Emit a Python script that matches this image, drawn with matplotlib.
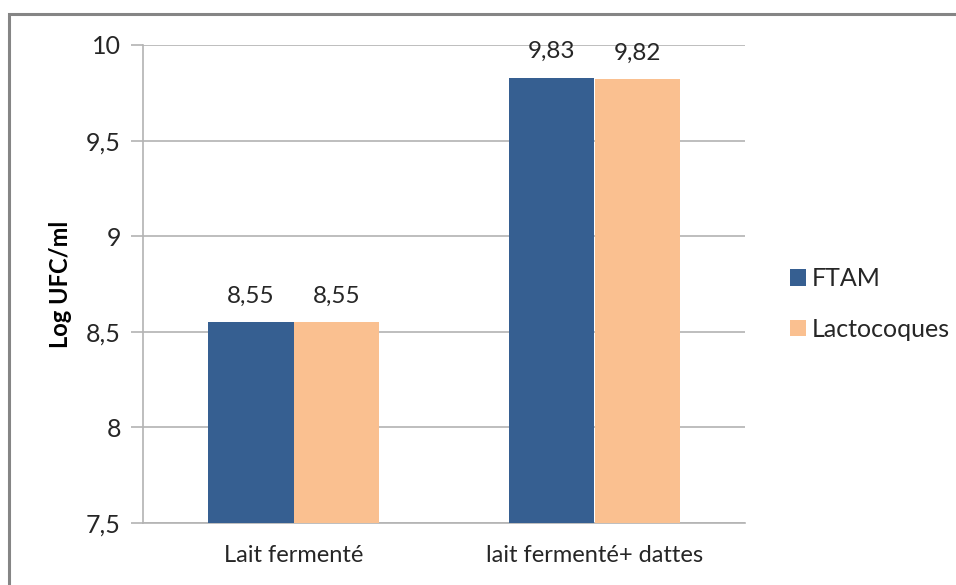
import numpy as np
import matplotlib.pyplot as plt
from matplotlib.patches import Rectangle
from matplotlib.ticker import FuncFormatter

categories = ['Lait fermenté', 'lait fermenté+ dattes']
ftam = [8.55, 9.83]
lacto = [8.55, 9.82]
series_names = ['FTAM', 'Lactocoques']
yticks = [7.5, 8, 8.5, 9, 9.5, 10]

col_ftam = '#365F91'
col_lacto = '#FAC090'
grid_col = '#B3B3B3'
txt_col = '#262626'

plt.rcParams['font.family'] = ['Lato', 'DejaVu Sans']

def virgule(v, pos=None):
    s = ('%g' % v)
    return s.replace('.', ',')

fig = plt.figure(figsize=(9.56, 5.85), dpi=100)
# cadre gris autour du graphique (seulement haut et gauche visibles)
fig.patches.append(Rectangle((9/956, -0.1), 1.2, 1 - 14/585 + 0.1, transform=fig.transFigure,
                             fill=False, edgecolor='#858585', linewidth=2.2))

ax = fig.add_axes([143/956, 1 - 523/585, 602/956, 478/585])
x = np.arange(len(categories))
w = 0.285
b1 = ax.bar(x - w/2, ftam, w, color=col_ftam, label=series_names[0], zorder=3, linewidth=0)
b2 = ax.bar(x + w/2, lacto, w, color=col_lacto, label=series_names[1], zorder=3, linewidth=0)

for bars, vals in ((b1, ftam), (b2, lacto)):
    for r, v in zip(bars, vals):
        ax.annotate(virgule(v), (r.get_x() + r.get_width()/2, v), xytext=(0, 11),
                    textcoords='offset points', ha='center', va='bottom',
                    fontsize=17.5, color=txt_col)

ax.set_xlim(-0.5, 1.5)
ax.set_ylim(7.5, 10)
ax.set_yticks(yticks)
ax.yaxis.set_major_formatter(FuncFormatter(virgule))
ax.set_xticks(x)
ax.set_xticklabels(categories)
ax.tick_params(axis='x', length=0, pad=16, labelsize=17, labelcolor=txt_col)
ax.tick_params(axis='y', length=9, width=1.2, color=grid_col, pad=7, labelsize=18, labelcolor=txt_col)
ax.grid(axis='y', color=grid_col, linewidth=1.2, zorder=0)
for s in ['top', 'right']:
    ax.spines[s].set_visible(False)
for s in ['left', 'bottom']:
    ax.spines[s].set_color(grid_col)
    ax.spines[s].set_linewidth(1.2)
ax.set_ylabel('Log UFC/ml', fontsize=17, fontweight='bold', color='black')
ax.yaxis.set_label_coords(-0.118, 0.5)

fig.legend(loc='center left', bbox_to_anchor=(767/956, 1 - 304/585), frameon=False,
           fontsize=18, handlelength=0.65, handleheight=0.65, handletextpad=0.25,
           labelspacing=1.1, labelcolor=txt_col)

fig.savefig('out.png', dpi=100)
